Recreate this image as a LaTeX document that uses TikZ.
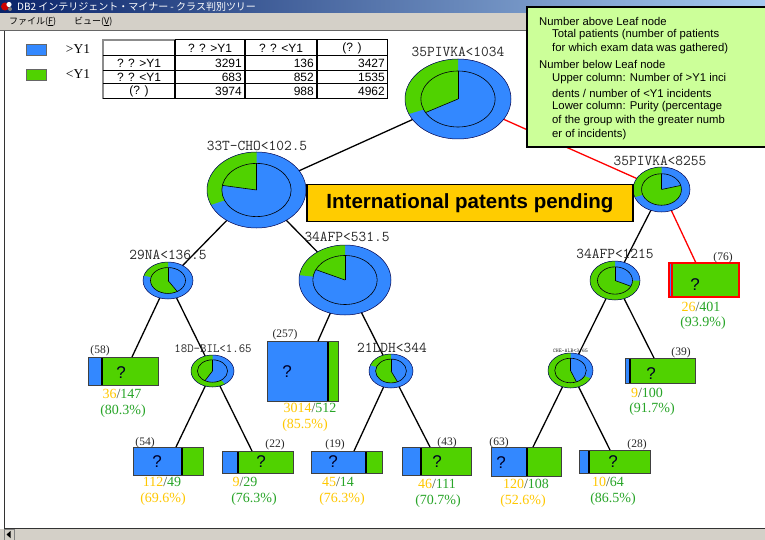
\documentclass[tikz,border=0pt]{standalone}
\usepackage{fontspec}
\setmainfont{Liberation Serif}
\newfontfamily\uisans{Liberation Sans}
\newfontfamily\jpfont{Noto Sans CJK JP}
\usetikzlibrary{calc}

\definecolor{pieblue}{RGB}{51,136,255}
\definecolor{piegreen}{RGB}{80,210,0}
\definecolor{numyellow}{RGB}{255,200,0}
\definecolor{numgreen}{RGB}{40,165,40}
\definecolor{slashgray}{RGB}{70,90,70}
\definecolor{notefill}{RGB}{204,255,153}
\definecolor{bannerfill}{RGB}{255,204,0}
\definecolor{wingray}{RGB}{212,208,200}
\definecolor{titledark}{RGB}{10,36,106}
\definecolor{titlelight}{RGB}{166,202,240}
\definecolor{labelgray}{RGB}{40,40,40}

\tikzset{
  edge/.style={line width=1.3pt, black},
  hotedge/.style={line width=1.3pt, red},
  ringedge/.style={line width=0.5pt, black!70!blue},
  inneredge/.style={line width=0.6pt, black},
  leafbox/.style={rectangle, inner sep=0pt, outer sep=0pt, fill=piegreen},
  leafedge/.style={line width=0.8pt, black!75},
  divider/.style={line width=1.4pt, black},
  splitlabel/.style={inner sep=0pt, text=labelgray, font=\ttfamily\fontsize{15}{15}\selectfont},
  countlabel/.style={inner sep=0pt, text=labelgray, font=\fontsize{11.5}{11.5}\selectfont},
  qmark/.style={inner sep=0pt, text=black!85!blue, font=\uisans\fontsize{17}{17}\selectfont},
  ratiolabel/.style={inner sep=0pt, font=\fontsize{14}{14}\selectfont},
  notetext/.style={inner sep=0pt, anchor=west, font=\uisans\fontsize{11.3}{11.3}\selectfont},
  tabletext/.style={inner sep=0pt, font=\uisans\fontsize{12}{12}\selectfont},
  legendtext/.style={inner sep=0pt, font=\fontsize{13.5}{13.5}\selectfont},
  menutext/.style={inner sep=0pt, anchor=west, font=\jpfont\fontsize{9}{9}\selectfont},
}

% ring pie: centre coordinate, radii, outer green arc, inner green arc (counter-clockwise)
\newcommand{\ringpie}[7]{%
  \pgfmathsetmacro\orx{#2}\pgfmathsetmacro\ory{#3}%
  \pgfmathsetmacro\irx{0.7*#2}\pgfmathsetmacro\iry{0.7*#3}%
  \fill[pieblue] (#1) ellipse[x radius=\orx, y radius=\ory];
  \fill[piegreen] (#1) -- ++({\orx*cos(#4)},{\ory*sin(#4)}) arc[start angle=#4, end angle=#5, x radius=\orx, y radius=\ory] -- cycle;
  \fill[pieblue] (#1) ellipse[x radius=\irx, y radius=\iry];
  \fill[piegreen] (#1) -- ++({\irx*cos(#6)},{\iry*sin(#6)}) arc[start angle=#6, end angle=#7, x radius=\irx, y radius=\iry] -- cycle;
  \draw[inneredge] (#1) -- ++({\irx*cos(#6)},{\iry*sin(#6)});
  \draw[inneredge] (#1) -- ++({\irx*cos(#7)},{\iry*sin(#7)});
  \draw[inneredge] (#1) ellipse[x radius=\irx, y radius=\iry];
  \draw[ringedge] (#1) ellipse[x radius=\orx, y radius=\ory];
}

% leaf box: name, x1, y1, x2, y2 (pixels, y downward), x of the blue/green split
\newcommand{\leaf}[6]{%
  \pgfmathsetmacro\lw{#4-#2}\pgfmathsetmacro\lh{#5-#3}%
  \pgfmathsetmacro\lcx{(#2+#4)/2}\pgfmathsetmacro\lcy{-(#3+#5)/2}%
  \node[leafbox, minimum width=\lw pt, minimum height=\lh pt] (#1) at (\lcx,\lcy) {};
  \fill[pieblue] (#1.north west) rectangle (#6,-#5);
  \draw[divider] (#6,-#3) -- (#6,-#5);
  \draw[leafedge] (#1.north west) rectangle (#1.south east);
}

\newcommand{\ratio}[2]{\textcolor{numyellow}{#1}\textcolor{slashgray}{/}\textcolor{numgreen}{#2}}

\begin{document}
\begin{tikzpicture}[x=1pt, y=1pt]
\useasboundingbox (0,0) rectangle (765,-540);
\fill[white] (0,0) rectangle (765,-540);

% window frame: title bar, menu bar, client border, scroll bar
\shade[left color=titledark, right color=titlelight] (0,0) rectangle (765,-13);
\fill[red!80!black] (5,-6.5) circle[radius=4];
\fill[white] (9,-4.5) circle[radius=2.6];
\fill[gray] (10,-9) circle[radius=2];
\node[menutext, text=white, font=\jpfont\fontsize{10}{10}\selectfont] (wintitle) at (17,-6.5) {DB2 インテリジェント・マイナー - クラス判別ツリー};
\fill[wingray] (0,-13) rectangle (765,-30);
\node[menutext] (menufile) at (9,-21.5) {ファイル(\underline{F})};
\node[menutext] (menuview) at (74,-21.5) {ビュー(\underline{V})};
\draw[black!60, line width=0.8pt] (0,-30.5) -- (765,-30.5);
\draw[black!80, line width=1pt] (4.5,-31) -- (4.5,-528);
\draw[black!80, line width=1pt] (4,-528) -- (765,-528);
\fill[wingray] (0,-529) rectangle (765,-540);
\draw[black!50] (4.5,-529.5) rectangle (14,-540);
\fill[black] (6.5,-534.5) -- (10.5,-531) -- (10.5,-538) -- cycle;

% legend
\fill[pieblue] (26,-44) rectangle (46,-55);
\draw[black!60, line width=0.5pt] (26,-44) rectangle (46,-55);
\node[legendtext] (leggt) at (78,-49.5) {>Y1};
\fill[piegreen] (26,-69) rectangle (46,-80);
\draw[black!60, line width=0.5pt] (26,-69) rectangle (46,-80);
\node[legendtext] (leglt) at (78,-74.5) {<Y1};

% confusion table
\draw[black!45, line width=1.5pt] (103,-99) -- (103,-40) -- (175,-40);
\draw[black, line width=1pt] (175,-40) -- (387,-40) -- (387,-99) -- (103,-99);
\foreach \yy in {56,71,84} \draw[black, line width=1pt] (103,-\yy) -- (387,-\yy);
\foreach \xx in {175,245,317} \draw[black, line width=1.3pt] (\xx,-40) -- (\xx,-99);
\node[tabletext] (th1) at (210,-48) {? ? >Y1};
\node[tabletext] (th2) at (281,-48) {? ? <Y1};
\node[tabletext] (th3) at (352,-48) {(? )};
\node[tabletext] (tr1) at (139,-63.5) {? ? >Y1};
\node[tabletext] (tr2) at (139,-77.5) {? ? <Y1};
\node[tabletext] (tr3) at (139,-91.5) {(? )};
\node[tabletext, anchor=east] (c11) at (242,-63.5) {3291};
\node[tabletext, anchor=east] (c12) at (314,-63.5) {136};
\node[tabletext, anchor=east] (c13) at (385,-63.5) {3427};
\node[tabletext, anchor=east] (c21) at (242,-77.5) {683};
\node[tabletext, anchor=east] (c22) at (314,-77.5) {852};
\node[tabletext, anchor=east] (c23) at (385,-77.5) {1535};
\node[tabletext, anchor=east] (c31) at (242,-91.5) {3974};
\node[tabletext, anchor=east] (c32) at (314,-91.5) {988};
\node[tabletext, anchor=east] (c33) at (385,-91.5) {4962};

% leaves
\leaf{l58}{88}{357}{158}{385}{102}
\leaf{l257}{267}{341}{338}{401}{328}
\leaf{l76}{669}{263}{739}{297}{672}
\draw[red, line width=1.4pt] (672,-263) -- (672,-297);
\draw[red, line width=1.5pt] (l76.north west) rectangle (l76.south east);
\leaf{l39}{625}{358}{695}{383}{630}
\leaf{l54}{133}{447}{203}{475}{182}
\leaf{l22}{222}{451}{293}{473}{238}
\leaf{l19}{311}{451}{382}{473}{366}
\leaf{l43}{402}{447}{471}{475}{421}
\leaf{l63}{491}{447}{561}{476}{527}
\leaf{l28}{579}{450}{650}{473}{589}

% split node centres
\coordinate (root) at (458,-99);
\coordinate (tcho) at (256.5,-190);
\coordinate (afpa) at (345,-280);
\coordinate (pivb) at (661.5,-189.5);
\coordinate (na) at (168,-280.5);
\coordinate (bil) at (212.5,-371);
\coordinate (ldh) at (391,-371);
\coordinate (afpb) at (615,-280.5);
\coordinate (che) at (570.5,-370.5);

% connectors
\draw[edge] (root) -- (tcho);
\draw[hotedge] (root) -- (pivb);
\draw[edge] (tcho) -- (na);
\draw[edge] (tcho) -- (afpa);
\draw[edge] (na) -- ([xshift=44pt]l58.north west);
\draw[edge] (na) -- (bil);
\draw[edge] (afpa) -- ([xshift=51pt]l257.north west);
\draw[edge] (afpa) -- (ldh);
\draw[edge] (bil) -- ([xshift=43pt]l54.north west);
\draw[edge] (bil) -- ([xshift=30pt]l22.north west);
\draw[edge] (ldh) -- ([xshift=43pt]l19.north west);
\draw[edge] (ldh) -- ([xshift=28pt]l43.north west);
\draw[edge] (pivb) -- (afpb);
\draw[hotedge] (pivb) -- ([xshift=27pt]l76.north west);
\draw[edge] (afpb) -- (che);
\draw[edge] (afpb) -- ([xshift=29pt]l39.north west);
\draw[edge] (che) -- ([xshift=42pt]l63.north west);
\draw[edge] (che) -- ([xshift=31pt]l28.north west);

% split nodes
\ringpie{root}{53}{40}{90}{202}{90}{209}
\ringpie{tcho}{49.5}{38}{90}{203}{90}{170}
\ringpie{afpa}{46}{35}{90}{172}{90}{155}
\ringpie{pivb}{28.5}{22.5}{90}{200}{90}{375}
\ringpie{na}{25}{18.5}{90}{165}{90}{302}
\ringpie{bil}{21.5}{16}{90}{305}{90}{240}
\ringpie{ldh}{22}{17}{90}{160}{90}{295}
\ringpie{afpb}{25}{19.5}{90}{360}{90}{335}
\ringpie{che}{22.5}{17.5}{90}{333}{90}{292}

% split labels
\node[splitlabel] (lroot) at (458,-52) {35PIVKA<1034};
\node[splitlabel] (ltcho) at (257,-146) {33T-CHO<102.5};
\node[splitlabel] (lafpa) at (347,-237) {34AFP<531.5};
\node[splitlabel] (lpivb) at (660,-161) {35PIVKA<8255};
\node[splitlabel] (lna) at (168,-255) {29NA<136.5};
\node[splitlabel, font=\ttfamily\fontsize{12.5}{12.5}\selectfont] (lbil) at (213,-349) {18D-BIL<1.65};
\node[splitlabel] (lldh) at (392,-348) {21LDH<344};
\node[splitlabel] (lafpb) at (615,-254) {34AFP<1215};
\node[splitlabel, font=\ttfamily\fontsize{5.5}{5.5}\selectfont] (lche) at (570.5,-351) {CHE-ALB<3.65};

% leaf annotations
\node[countlabel] (k58) at (100,-351) {(58)};
\node[qmark] (q58) at (121,-373) {?};
\node[ratiolabel] (r58) at (122,-394) {\ratio{36}{147}};
\node[ratiolabel, text=numgreen] (p58) at (123,-411) {(80.3\%)};

\node[countlabel] (k257) at (285,-335) {(257)};
\node[qmark] (q257) at (287,-372) {?};
\node[ratiolabel] (r257) at (310,-408) {\ratio{3014}{512}};
\node[ratiolabel, text=numyellow] (p257) at (305,-425) {(85.5\%)};

\node[countlabel] (k76) at (723,-258) {(76)};
\node[qmark] (q76) at (695,-285) {?};
\node[ratiolabel] (r76) at (701,-307) {\ratio{26}{401}};
\node[ratiolabel, text=numgreen] (p76) at (703,-323) {(93.9\%)};

\node[countlabel] (k39) at (681,-353) {(39)};
\node[qmark] (q39) at (651,-374) {?};
\node[ratiolabel] (r39) at (647,-393) {\ratio{9}{100}};
\node[ratiolabel, text=numgreen] (p39) at (652,-409) {(91.7\%)};

\node[countlabel] (k54) at (145,-443) {(54)};
\node[qmark] (q54) at (157,-462) {?};
\node[ratiolabel] (r54) at (162,-482) {\ratio{112}{49}};
\node[ratiolabel, text=numyellow] (p54) at (163,-499) {(69.6\%)};

\node[countlabel] (k22) at (275,-445) {(22)};
\node[qmark] (q22) at (261,-462) {?};
\node[ratiolabel] (r22) at (245,-482) {\ratio{9}{29}};
\node[ratiolabel, text=numgreen] (p22) at (254,-499) {(76.3\%)};

\node[countlabel] (k19) at (335,-445) {(19)};
\node[qmark] (q19) at (333,-462) {?};
\node[ratiolabel] (r19) at (338,-482) {\ratio{45}{14}};
\node[ratiolabel, text=numyellow] (p19) at (342,-499) {(76.3\%)};

\node[countlabel] (k43) at (447,-443) {(43)};
\node[qmark] (q43) at (437,-462) {?};
\node[ratiolabel] (r43) at (437,-484) {\ratio{46}{111}};
\node[ratiolabel, text=numgreen] (p43) at (438,-501) {(70.7\%)};

\node[countlabel] (k63) at (499,-443) {(63)};
\node[qmark] (q63) at (501,-463) {?};
\node[ratiolabel] (r63) at (526,-484) {\ratio{120}{108}};
\node[ratiolabel, text=numyellow] (p63) at (523,-501) {(52.6\%)};

\node[countlabel] (k28) at (637,-445) {(28)};
\node[qmark] (q28) at (613,-462) {?};
\node[ratiolabel] (r28) at (608,-482) {\ratio{10}{64}};
\node[ratiolabel, text=numgreen] (p28) at (613,-499) {(86.5\%)};

% banner
\node[draw=black, line width=1.5pt, fill=bannerfill, minimum width=326pt, minimum height=37pt, inner sep=0pt,
      font=\uisans\bfseries\fontsize{20.5}{20.5}\selectfont] (patent) at (470,-203) {International patents pending};

% explanatory note
\draw[black, line width=1.5pt, fill=notefill] (527,-7) rectangle (766,-147);
\node[notetext] (n1) at (539,-21) {Number above Leaf node};
\node[notetext] (n2) at (552,-35) {Total patients (number of patients};
\node[notetext] (n3) at (552,-49) {for which exam data was gathered)};
\node[notetext] (n4) at (539,-64) {Number below Leaf node};
\node[notetext] (n5) at (552,-79) {Upper column: Number of >Y1 inci};
\node[notetext] (n6) at (552,-93) {dents / number of <Y1 incidents};
\node[notetext] (n7) at (552,-107) {Lower column: Purity (percentage};
\node[notetext] (n8) at (552,-121) {of the group with the greater numb};
\node[notetext] (n9) at (552,-135) {er of incidents)};
\end{tikzpicture}
\end{document}
